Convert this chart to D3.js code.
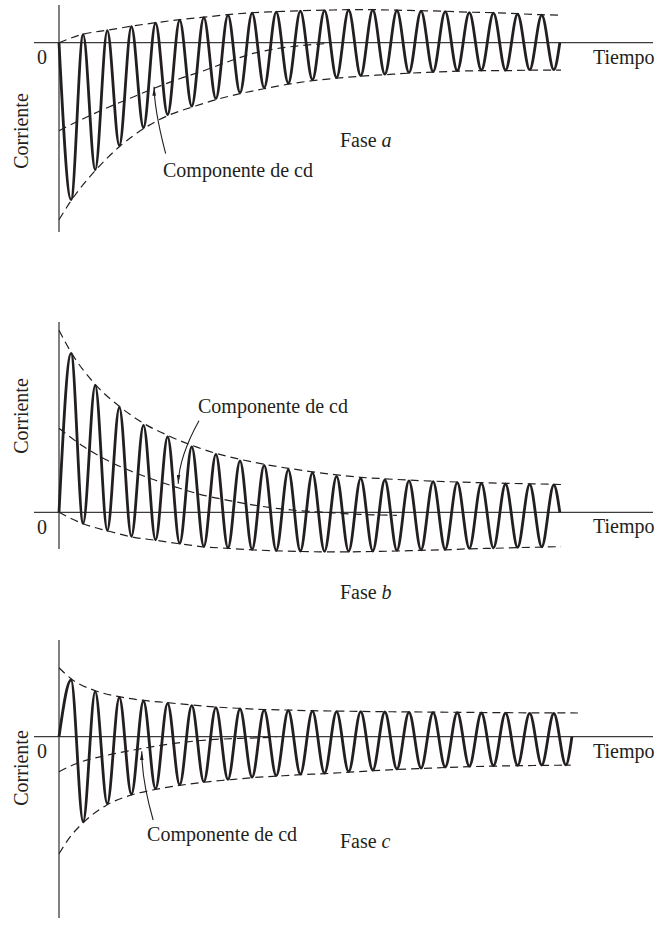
<!DOCTYPE html>
<html><head><meta charset="utf-8">
<script src="https://cdn.jsdelivr.net/npm/d3@7"></script>
<style>html,body{margin:0;padding:0;background:#fff;}svg{display:block;}</style>
</head><body>
<svg id="chart" width="660" height="928"></svg>
<script>
// ---------- DATA (time in cycles, current in arbitrary units) ----------
const phaseNames = ["a", "b", "c"];
const axisLabelX = "Tiempo";
const axisLabelY = "Corriente";
const zeroLabel = "0";
const dcLabel = "Componente de cd";

// Phase a: troughs at t = 0.5, 1.5, ... ; peaks at t = 1, 2, ...
const aTroughs = [-157,-127,-103,-85,-72,-63.5,-56,-50,-45,-40.5,-37,-35,-33,-31.5,-30,-29,-28,-27.5,-27.5,-27,-27];
const aPeaks   = [8,12,16,19.5,22.5,25,27.5,29.5,30.5,31.5,32,32.5,32.5,32,31.5,31,30,29.5,28.5,27.5];
const aEnd = 20.75;
const aUpperT = [0,1,2,3,4,5,6,7,8,9,10,11,12,13,14,15,16,17,18,19,20,20.75];
const aUpperV = [0,8.5,12.5,16.5,20,23,25.5,28,30,31,32,32.5,33,33,32.5,32,31.5,30.5,30,29,28,27.5];
const aLowerT = [0,0.5,1.5,2.5,3.5,4.5,5.5,6.5,7.5,8.5,9.5,10.5,11.5,12.5,13.5,14.5,15.5,16.5,17.5,18.5,19.5,20.5,20.8];
const aLowerV = [-177,-158,-128,-104,-86,-73,-64.5,-57,-51,-46,-41.5,-38,-35.5,-33.5,-32,-30.5,-29.5,-28.5,-28,-28,-27.5,-27.5,-27.5];
const aDcT = [0,1,2,3,4,5,6,7,8,9,10,11];
const aDcV = [-88,-76,-65,-55,-45,-36,-28,-19,-11,-6,-3,-1];

// Phase b: peaks at t = 0.5, 1.5, ... ; troughs at t = 1, 2, ...
const bPeaks   = [159,127,105,87,75.5,65.5,58,51.5,47,42.5,39.5,36,34,32.3,31.5,30.6,29.6,29,28.3,28,27.3];
const bTroughs = [-11,-18,-24,-27.5,-31,-34,-35.5,-37,-38,-38.7,-39,-39,-38.7,-38,-37.5,-37,-36,-35.5,-35,-34.5];
const bEnd = 20.75;
const bUpperT = [0,0.5,1.5,2.5,3.5,4.5,5.5,6.5,7.5,8.5,9.5,10.5,11.5,12.5,13.5,14.5,15.5,16.5,17.5,18.5,19.5,20.5,20.8];
const bUpperV = [182,160,128,106,89,77,67,59,53,48,44,40.5,37.5,35,33.5,32.2,31.2,30.3,29.6,29,28.5,28,27.8];
const bLowerT = [0,1,2,3,4,5,6,7,8,9,10,11,12,13,14,15,16,17,18,19,20,20.8];
const bLowerV = [0,-11.5,-18.5,-24.5,-28,-31.5,-34.5,-36,-37.5,-38.5,-39.2,-39.5,-39.5,-39.2,-38.7,-38,-37.5,-36.5,-36,-35.3,-34.8,-34.3];
const bDcT = [0,1,2,3,4,5,6,7,8,9,10,11,12,13,14];
const bDcV = [84,66,52,41,32,24,17,12,7.5,4,1.5,0,-1.5,-2.5,-3];

// Phase c: peaks at t = 0.5, 1.5, ... ; troughs at t = 1, 2, ...
const cPeaks   = [56.7,45,39.4,35.7,33.4,31,29,27.7,26.5,26,25.5,25,25,24.7,24.4,24,24,23.7,23.5,23.3,23.2];
const cTroughs = [-85,-67,-57.5,-52,-48,-45,-42.7,-40.5,-39,-37.5,-36.5,-35,-33.5,-32.3,-31.3,-30.3,-29.5,-29,-28.6,-28.3,-28.2];
const cEnd = 21.25;
const cUpperT = [0,0.5,1.5,2.5,3.5,4.5,5.5,6.5,7.5,8.5,9.5,10.5,11.5,12.5,13.5,14.5,15.5,16.5,17.5,18.5,19.5,20.5,21.5];
const cUpperV = [69,58,46,40,36.3,34,31.7,29.7,28.3,27.2,26.6,26,25.6,25.3,25,24.8,24.6,24.4,24.2,24,23.9,23.8,23.7];
const cLowerT = [0,0.5,1,2,3,4,5,6,7,8,9,10,11,12,13,14,15,16,17,18,19,20,21,21.2];
const cLowerV = [-117,-99,-86,-68,-58.3,-52.7,-48.7,-45.5,-43.2,-41,-39.5,-38,-37,-35.5,-34,-32.8,-31.8,-30.8,-30,-29.4,-29,-28.7,-28.5,-28.5];
const cDcT = [0,0.7,2,3.4,4.7,6.1,7.5,9];
const cDcV = [-35,-27,-18.5,-12,-7,-3.3,-1.7,-0.7];

// annotation anchors in data coords [t, i]
const aNotes = {label:[4.31,-134.3], tail:[4.42,-111], c1:[4.23,-93], c2:[3.95,-68], tip:[3.94,-44], phase:[11.64,-104]};
const bNotes = {label:[5.76,99], tail:[5.8,91.5], c1:[5.35,72], c2:[4.97,50], tip:[4.94,28.5], phase:[11.64,-86.7]};
const cNotes = {label:[3.65,-104.3], tail:[3.9,-83.3], c1:[3.6,-58], c2:[3.43,-35], tip:[3.43,-14.5], phase:[11.64,-111.3]};

// ---------- LAYOUT ----------
const panels = [
  {name:"a", y0:42.7, top:5, bottom:232, corrY:131, peaks:aPeaks, peakT0:1, troughs:aTroughs, troughT0:0.5, end:aEnd,
   upT:aUpperT, upV:aUpperV, loT:aLowerT, loV:aLowerV, dcT:aDcT, dcV:aDcV, notes:aNotes},
  {name:"b", y0:512.3, top:322, bottom:549, corrY:416, peaks:bPeaks, peakT0:0.5, troughs:bTroughs, troughT0:1, end:bEnd,
   upT:bUpperT, upV:bUpperV, loT:bLowerT, loV:bLowerV, dcT:bDcT, dcV:bDcV, notes:bNotes},
  {name:"c", y0:736.7, top:640, bottom:918, corrY:768, peaks:cPeaks, peakT0:0.5, troughs:cTroughs, troughT0:1, end:cEnd,
   upT:cUpperT, upV:cUpperV, loT:cLowerT, loV:cLowerV, dcT:cDcT, dcV:cDcV, notes:cNotes}
];

const svg = d3.select("#chart");
const ink = "#231f20";
const font = "'Liberation Serif','Times New Roman',serif";

svg.append("defs").append("marker")
  .attr("id","ah").attr("viewBox","0 0 10 4").attr("refX",10).attr("refY",2)
  .attr("markerWidth",9).attr("markerHeight",4).attr("markerUnits","userSpaceOnUse")
  .attr("orient","auto")
  .append("path").attr("d","M0,0L10,2L0,4Z").attr("fill",ink);

const x = d3.scaleLinear().domain([-1.036, 24.61]).range([34, 653]);

panels.forEach((p, idx) => {
  const y = d3.scaleLinear().domain([p.y0 - p.bottom, p.y0 - p.top]).range([p.bottom, p.top]);
  const g = svg.append("g");

  // waveform points
  const pts = [[0,0]];
  p.peaks.forEach((v,k) => pts.push([p.peakT0 + k, v]));
  p.troughs.forEach((v,k) => pts.push([p.troughT0 + k, v]));
  pts.push([p.end, 0]);
  pts.sort((m,n) => m[0]-n[0]);

  const line = d3.line().x(d => x(d[0])).y(d => y(d[1]));

  // axes
  g.append("line").attr("x1", x.range()[0]).attr("x2", x.range()[1])
    .attr("y1", y(0)).attr("y2", y(0)).attr("stroke","#3c3c3c").attr("stroke-width",1.3);
  g.append("line").attr("x1", x(0)).attr("x2", x(0))
    .attr("y1", y.range()[0]).attr("y2", y.range()[1]).attr("stroke","#3c3c3c").attr("stroke-width",1.3);

  // dashed envelopes & dc component
  const dashed = [
    d3.zip(p.upT, p.upV), d3.zip(p.loT, p.loV), d3.zip(p.dcT, p.dcV)
  ];
  dashed.forEach(ser => {
    g.append("path").attr("d", line.curve(d3.curveMonotoneX)(ser))
      .attr("fill","none").attr("stroke",ink).attr("stroke-width",1.2)
      .attr("stroke-dasharray","8,5");
  });

  // waveform
  g.append("path").attr("d", line.curve(d3.curveMonotoneX)(pts))
    .attr("fill","none").attr("stroke",ink).attr("stroke-width",2.8)
    .attr("stroke-linejoin","round");

  // arrow
  const n = p.notes;
  const ap = d3.path();
  ap.moveTo(x(n.tail[0]), y(n.tail[1]));
  ap.bezierCurveTo(x(n.c1[0]), y(n.c1[1]), x(n.c2[0]), y(n.c2[1]), x(n.tip[0]), y(n.tip[1]));
  g.append("path").attr("d", ap.toString()).attr("fill","none")
    .attr("stroke",ink).attr("stroke-width",1.1).attr("marker-end","url(#ah)");

  const txt = (tx, ty) => g.append("text").attr("x",tx).attr("y",ty)
    .attr("font-family",font).attr("font-size",20).attr("fill",ink);

  txt(x(n.label[0]), y(n.label[1])).text(dcLabel);
  const ph = txt(x(n.phase[0]), y(n.phase[1]));
  ph.append("tspan").text("Fase ");
  ph.append("tspan").attr("font-style","italic").text(p.name);

  txt(42, y(0) + 21.5).attr("text-anchor","middle").text(zeroLabel);
  txt(593, y(0) + 21).text(axisLabelX);
  g.append("text").attr("transform", `translate(27.5,${p.corrY}) rotate(-90)`)
    .attr("text-anchor","middle").attr("font-family",font).attr("font-size",20)
    .attr("fill",ink).text(axisLabelY);
});
</script>
</body></html>
